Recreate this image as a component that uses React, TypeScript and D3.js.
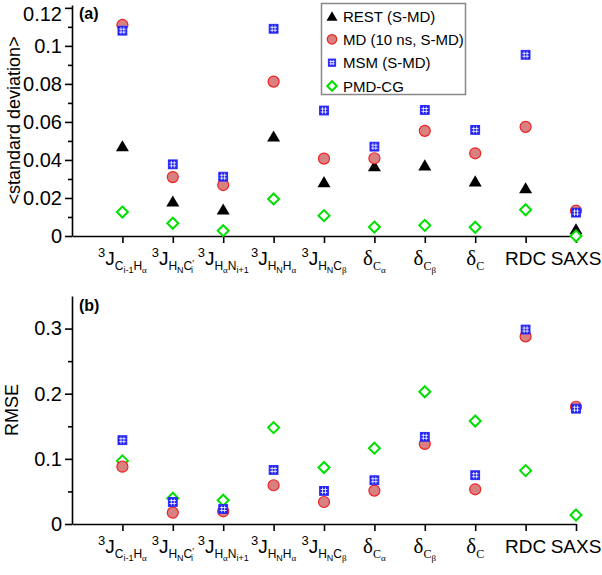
import * as d3 from 'd3';
import React, { useEffect, useRef } from 'react';

// label pieces: [text, level, serif?]
type Piece = [string, string, boolean?];

const categoryLabels: Piece[][] = [
    [['3', 'sup'], ['J', 'base'], ['C', 'sub'], ['i-1', 'subsub'], ['H', 'sub'], ['α', 'subsub', true]],
    [['3', 'sup'], ['J', 'base'], ['H', 'sub'], ['N', 'subsub'], ['C', 'sub'], ['\u2032', 'prime'], ['i', 'subsub']],
    [['3', 'sup'], ['J', 'base'], ['H', 'sub'], ['α', 'subsub', true], ['N', 'sub'], ['i+1', 'subsub']],
    [['3', 'sup'], ['J', 'base'], ['H', 'sub'], ['N', 'subsub'], ['H', 'sub'], ['α', 'subsub', true]],
    [['3', 'sup'], ['J', 'base'], ['H', 'sub'], ['N', 'subsub'], ['C', 'sub'], ['β', 'subsub', true]],
    [['δ', 'greek', true], ['C', 'sub', true], ['α', 'subsub', true]],
    [['δ', 'greek', true], ['C', 'sub', true], ['β', 'subsub', true]],
    [['δ', 'greek', true], ['C', 'sub', true]],
    [['RDC', 'base']],
    [['SAXS', 'base']],
];

const restSD = [0.0475, 0.0184, 0.0142, 0.0526, 0.0286, 0.037, 0.0374, 0.029, 0.0254, 0.0038];
const mdSD = [0.111, 0.031, 0.0268, 0.0812, 0.0407, 0.0409, 0.0553, 0.0435, 0.0574, 0.0133];
const msmSD = [0.108, 0.0377, 0.0312, 0.109, 0.066, 0.047, 0.0663, 0.0558, 0.0953, 0.0123];
const pmdSD = [0.0126, 0.0067, 0.0028, 0.0195, 0.0107, 0.0047, 0.0056, 0.0046, 0.0138, 0.0];

const mdRMSE = [0.088, 0.0174, 0.0195, 0.0595, 0.0338, 0.0513, 0.123, 0.0533, 0.288, 0.18];
const msmRMSE = [0.1287, 0.0338, 0.023, 0.083, 0.0508, 0.0672, 0.1338, 0.0749, 0.2985, 0.177];
const pmdRMSE = [0.0969, 0.0395, 0.0364, 0.148, 0.0867, 0.1164, 0.203, 0.158, 0.082, 0.0138];

const sdTicks = [0, 0.02, 0.04, 0.06, 0.08, 0.1, 0.12];
const sdMinor = [0.01, 0.03, 0.05, 0.07, 0.09, 0.11];
const rmseTicks = [0, 0.1, 0.2, 0.3];
const rmseMinor = [0.05, 0.15, 0.25];

const legendNames = ['REST (S-MD)', 'MD (10 ns, S-MD)', 'MSM (S-MD)', 'PMD-CG'];

const SANS = 'Liberation Sans, Arial, sans-serif';
const SERIF = 'Liberation Serif, Times New Roman, serif';

const levels: Record<string, { dy: number; size: number }> = {
    sup: { dy: -8, size: 13 },
    base: { dy: 0, size: 19 },
    greek: { dy: 0, size: 21 },
    sub: { dy: 5, size: 12 },
    subsub: { dy: 8, size: 9 },
    prime: { dy: 1, size: 9 },
};

const App = () => {
    const svgRef = useRef<SVGSVGElement | null>(null);

    useEffect(() => {
        const width = 602;
        const height = 575;
        const svg = d3.select(svgRef.current);
        svg.selectAll('*').remove();
        svg.attr('width', width).attr('height', height).attr('viewBox', [0, 0, width, height]);

        const x = d3.scaleLinear().domain([-1, 9]).range([72, 576]);

        const drawMarker = (
            g: d3.Selection<SVGGElement, unknown, null, undefined>,
            kind: string,
            cx: number,
            cy: number,
            s: number,
        ) => {
            if (kind === 'rest') {
                const h = s * 0.85;
                g.append('path')
                    .attr('d', `M${cx - s / 2},${cy + h / 2}L${cx + s / 2},${cy + h / 2}L${cx},${cy - h / 2}Z`)
                    .attr('fill', '#000');
            } else if (kind === 'md') {
                g.append('circle')
                    .attr('cx', cx)
                    .attr('cy', cy)
                    .attr('r', s / 2)
                    .attr('fill', '#d98080')
                    .attr('stroke', '#ee2222')
                    .attr('stroke-width', 1.2);
            } else if (kind === 'msm') {
                const a = s * 0.8;
                g.append('rect')
                    .attr('x', cx - a / 2)
                    .attr('y', cy - a / 2)
                    .attr('width', a)
                    .attr('height', a)
                    .attr('fill', '#1f1fee')
                    .attr('stroke', '#2a2aff')
                    .attr('stroke-width', 1);
                [-1, 1].forEach((k) => {
                    g.append('line')
                        .attr('x1', cx + (k * a) / 6)
                        .attr('x2', cx + (k * a) / 6)
                        .attr('y1', cy - a / 2 + 1)
                        .attr('y2', cy + a / 2 - 1)
                        .attr('stroke', '#fff')
                        .attr('stroke-width', 0.8);
                    g.append('line')
                        .attr('y1', cy + (k * a) / 6)
                        .attr('y2', cy + (k * a) / 6)
                        .attr('x1', cx - a / 2 + 1)
                        .attr('x2', cx + a / 2 - 1)
                        .attr('stroke', '#fff')
                        .attr('stroke-width', 0.8);
                });
            } else {
                const r = s / 2;
                g.append('path')
                    .attr('d', `M${cx},${cy - r}L${cx + r},${cy}L${cx},${cy + r}L${cx - r},${cy}Z`)
                    .attr('fill', '#fff')
                    .attr('stroke', '#00e000')
                    .attr('stroke-width', 2);
            }
        };

        const drawPanel = (
            y: d3.ScaleLinear<number, number>,
            majors: number[],
            minors: number[],
            series: [string, number[]][],
            tag: string,
            tagY: number,
            yLabel: string,
            yLabelX: number,
        ) => {
            const g = svg.append('g');
            const [y0, y1] = y.range();

            // bottom axis
            g.append('g')
                .attr('transform', `translate(0,${y0})`)
                .call(
                    d3
                        .axisBottom(x)
                        .tickValues(d3.range(categoryLabels.length))
                        .tickFormat(() => '')
                        .tickSize(7)
                        .tickSizeOuter(0),
                )
                .call((a) => a.selectAll('path,line').attr('stroke', '#000').attr('stroke-width', 1.6));

            // left axis
            g.append('g')
                .attr('transform', `translate(${x.range()[0]},0)`)
                .call(
                    d3
                        .axisLeft(y)
                        .tickValues(majors)
                        .tickFormat(d3.format('~g'))
                        .tickSize(7)
                        .tickPadding(3)
                        .tickSizeOuter(0),
                )
                .call((a) => a.selectAll('path,line').attr('stroke', '#000').attr('stroke-width', 1.6))
                .call((a) =>
                    a
                        .selectAll('text')
                        .attr('font-family', SANS)
                        .attr('font-size', 20)
                        .attr('fill', '#000'),
                )
                // keep the top label inside the page
                .call((a) =>
                    a
                        .selectAll<SVGTextElement, number>('text')
                        .filter((d) => y(d) < 14)
                        .attr('y', (d) => 14 - y(d)),
                );
            g.append('g')
                .attr('transform', `translate(${x.range()[0]},0)`)
                .call(d3.axisLeft(y).tickValues(minors).tickFormat(() => '').tickSize(4).tickSizeOuter(0))
                .call((a) => a.select('.domain').remove())
                .call((a) => a.selectAll('line').attr('stroke', '#000').attr('stroke-width', 1.6));

            // category labels
            categoryLabels.forEach((pieces, i) => {
                const t = g
                    .append('text')
                    .attr('x', x(i))
                    .attr('y', y0 + 29)
                    .attr('text-anchor', 'middle')
                    .attr('fill', '#000');
                let cur = 0;
                pieces.forEach(([txt, lvl, serif]) => {
                    const L = levels[lvl];
                    t.append('tspan')
                        .attr('dy', L.dy - cur)
                        .attr('dx', lvl === 'subsub' && pieces.some((p) => p[1] === 'prime') && txt === 'i' ? -3 : 0)
                        .attr('font-size', L.size)
                        .attr('font-family', serif ? SERIF : SANS)
                        .text(txt);
                    cur = L.dy;
                });
            });

            // panel tag
            g.append('text')
                .attr('x', 79)
                .attr('y', tagY)
                .attr('font-family', SANS)
                .attr('font-weight', 'bold')
                .attr('font-size', 16)
                .text(tag);

            // y label
            g.append('text')
                .attr('transform', `translate(${yLabelX},${(y0 + y1) / 2}) rotate(-90)`)
                .attr('text-anchor', 'middle')
                .attr('font-family', SANS)
                .attr('font-size', 18)
                .text(yLabel);

            // markers
            series.forEach(([kind, vals]) => {
                const sg = g.append('g');
                vals.forEach((v, i) => {
                    const s = kind === 'rest' ? 13 : 11;
                    drawMarker(sg, kind, x(i), y(v), s);
                });
            });
        };

        const ySD = d3.scaleLinear().domain([0, 0.1215]).range([236, 5]);
        drawPanel(
            ySD,
            sdTicks,
            sdMinor,
            [
                ['rest', restSD],
                ['pmd', pmdSD],
                ['md', mdSD],
                ['msm', msmSD],
            ],
            '(a)',
            19,
            '<standard deviation>',
            20,
        );

        const yRMSE = d3.scaleLinear().domain([0, 0.35]).range([524, 296]);
        drawPanel(
            yRMSE,
            rmseTicks,
            rmseMinor,
            [
                ['pmd', pmdRMSE],
                ['md', mdRMSE],
                ['msm', msmRMSE],
            ],
            '(b)',
            311,
            'RMSE',
            18,
        );

        // legend
        const lg = svg.append('g');
        lg.append('rect')
            .attr('x', 321.5)
            .attr('y', 3.5)
            .attr('width', 144)
            .attr('height', 91)
            .attr('fill', '#fff')
            .attr('stroke', '#888')
            .attr('stroke-width', 1.5);
        const kinds = ['rest', 'md', 'msm', 'pmd'];
        const rowY = d3.scaleLinear().domain([0, 3]).range([16, 86]);
        legendNames.forEach((name, i) => {
            drawMarker(lg, kinds[i], 332, rowY(i), kinds[i] === 'rest' ? 11 : kinds[i] === 'msm' ? 9 : 9.5);
            lg.append('text')
                .attr('x', 343)
                .attr('y', rowY(i) + 5.5)
                .attr('font-family', SANS)
                .attr('font-size', 15)
                .text(name);
        });
    }, []);

    return <svg ref={svgRef} style={{ position: 'absolute', left: 0, top: 0, background: '#fff' }} />;
};

export default App;
